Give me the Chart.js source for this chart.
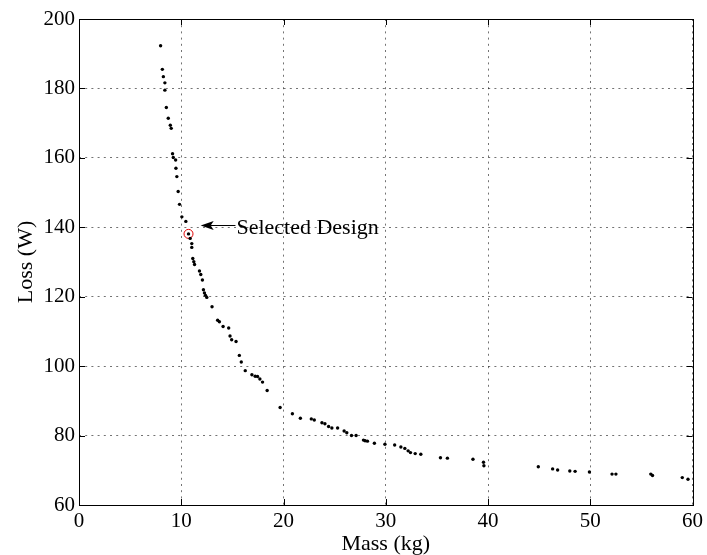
<!DOCTYPE html>
<html>
<head>
<meta charset="utf-8">
<script src="https://cdn.jsdelivr.net/npm/chart.js@4.4.0/dist/chart.umd.min.js"></script>
<style>
  html, body { margin: 0; padding: 0; background: #fff; }
  canvas { display: block; }
</style>
</head>
<body>
<canvas id="chart" width="707" height="555"></canvas>
<script>
'use strict';

// Pareto front of candidate designs: mass (kg) vs. loss (W)
var massKg = [
  7.98, 8.15, 8.25, 8.4, 8.4, 8.54, 8.73, 8.93, 9.02, 9.15,
  9.22, 9.45, 9.48, 9.57, 9.7, 9.83, 10.06, 10.45, 10.71, 10.87,
  11.03, 11.03, 11.13, 11.23, 11.3, 11.78, 11.91, 12.07, 12.17, 12.27,
  12.37, 12.5, 13.01, 13.56, 13.73, 14.09, 14.64, 14.77, 14.93, 15.36,
  15.68, 15.87, 16.26, 16.91, 17.23, 17.46, 17.69, 17.95, 18.4, 19.67,
  20.87, 21.65, 22.72, 23.01, 23.76, 24.05, 24.41, 24.73, 25.29, 25.93,
  26.19, 26.65, 27.1, 27.82, 27.98, 28.21, 28.89, 29.92, 30.87, 31.48,
  31.87, 32.19, 32.42, 32.88, 33.43, 35.35, 36.03, 38.53, 39.56, 39.6,
  44.92, 46.32, 46.81, 48.0, 48.52, 49.92, 52.13, 52.51, 55.92, 56.09,
  59.0, 59.56
];
var lossW = [
  192.3, 185.5, 183.4, 181.6, 179.5, 174.5, 171.4, 169.4, 168.5, 161.2,
  160.1, 159.4, 157.0, 154.6, 150.3, 146.6, 143.0, 141.7, 138.1, 136.8,
  135.3, 134.2, 131.0, 130.1, 129.3, 127.4, 126.4, 124.8, 122.0, 121.1,
  120.4, 119.8, 117.1, 113.2, 112.8, 111.4, 111.0, 108.7, 107.6, 107.1,
  103.1, 101.2, 98.7, 97.5, 97.1, 97.0, 96.3, 95.4, 93.0, 88.1,
  86.3, 85.0, 84.8, 84.5, 83.7, 83.4, 82.6, 82.2, 82.2, 81.3,
  80.8, 80.0, 80.0, 78.7, 78.5, 78.4, 77.8, 77.5, 77.3, 76.7,
  76.3, 75.6, 75.1, 74.8, 74.6, 73.6, 73.5, 73.2, 72.3, 71.3,
  71.0, 70.4, 70.1, 69.8, 69.7, 69.5, 68.9, 68.9, 68.9, 68.5,
  67.9, 67.4
];

// the chosen design, circled in red
var selectedMass = [10.71];
var selectedLoss = [138.1];

var xTicks = [0, 10, 20, 30, 40, 50, 60];
var yTicks = [60, 80, 100, 120, 140, 160, 180, 200];

// arrow label pointing at the chosen design (data coordinates)
var noteText = 'Selected Design';
var noteTip = [11.9, 140.6];
var noteTail = [15.3, 140.6];

var serif = '"Liberation Serif", "Times New Roman", serif';

function toPoints(xs, ys) {
  return xs.map(function(x, i) { return { x: x, y: ys[i] }; });
}

// MATLAB style box: frame on four sides, ticks pointing inward, plus the arrow note
var framePlugin = {
  id: 'frame',
  afterDatasetsDraw: function(chart) {
    var ctx = chart.ctx;
    var a = chart.chartArea;
    var xs = chart.scales.x;
    var ys = chart.scales.y;
    var tl = 6;

    ctx.save();
    ctx.strokeStyle = '#000';
    ctx.lineWidth = 1;
    ctx.beginPath();
    xTicks.forEach(function(v) {
      var px = Math.round(xs.getPixelForValue(v)) + 0.5;
      ctx.moveTo(px, a.bottom); ctx.lineTo(px, a.bottom - tl);
      ctx.moveTo(px, a.top); ctx.lineTo(px, a.top + tl);
    });
    yTicks.forEach(function(v) {
      var py = Math.round(ys.getPixelForValue(v)) + 0.5;
      ctx.moveTo(a.left, py); ctx.lineTo(a.left + tl, py);
      ctx.moveTo(a.right, py); ctx.lineTo(a.right - tl, py);
    });
    ctx.stroke();
    ctx.strokeRect(Math.round(a.left) + 0.5, Math.round(a.top) + 0.5,
      Math.round(a.right - a.left), Math.round(a.bottom - a.top));

    // arrow
    var tipX = xs.getPixelForValue(noteTip[0]);
    var tipY = Math.round(ys.getPixelForValue(noteTip[1])) + 0.5;
    var tailX = xs.getPixelForValue(noteTail[0]);
    ctx.beginPath();
    ctx.moveTo(tailX, tipY);
    ctx.lineTo(tipX + 8, tipY);
    ctx.stroke();
    ctx.fillStyle = '#000';
    ctx.beginPath();
    ctx.moveTo(tipX, tipY);
    ctx.lineTo(tipX + 13, tipY - 4.5);
    ctx.lineTo(tipX + 10, tipY);
    ctx.lineTo(tipX + 13, tipY + 4.5);
    ctx.closePath();
    ctx.fill();

    ctx.font = '22px ' + serif;
    ctx.textAlign = 'left';
    ctx.textBaseline = 'middle';
    ctx.fillText(noteText, tailX + 1, tipY + 3);
    ctx.restore();
  }
};

var gridStyle = {
  color: 'rgba(0,0,0,0.55)',
  lineWidth: 1,
  drawTicks: false
};

new Chart(document.getElementById('chart').getContext('2d'), {
  type: 'scatter',
  data: {
    datasets: [
      {
        label: 'Designs',
        data: toPoints(massKg, lossW),
        pointRadius: 1.7,
        pointBorderWidth: 0,
        backgroundColor: '#000',
        borderColor: '#000'
      },
      {
        label: 'Selected',
        data: toPoints(selectedMass, selectedLoss),
        pointRadius: 4.5,
        pointBorderWidth: 1,
        backgroundColor: 'rgba(0,0,0,0)',
        borderColor: '#e00000'
      }
    ]
  },
  options: {
    responsive: false,
    animation: false,
    events: [],
    layout: { padding: { left: 0, right: 12, top: 19, bottom: 0 } },
    plugins: {
      legend: { display: false },
      tooltip: { enabled: false }
    },
    scales: {
      x: {
        type: 'linear',
        min: 0,
        max: 60,
        afterBuildTicks: function(scale) {
          scale.ticks = xTicks.map(function(v) { return { value: v }; });
        },
        afterFit: function(scale) { scale.height = 50; },
        grid: gridStyle,
        border: { display: false, dash: [2, 4.2] },
        ticks: {
          color: '#000',
          padding: 4,
          maxRotation: 0,
          font: { family: serif, size: 21 }
        },
        title: {
          display: true,
          text: 'Mass (kg)',
          color: '#000',
          padding: 0,
          font: { family: serif, size: 22, lineHeight: 1 }
        }
      },
      y: {
        type: 'linear',
        min: 60,
        max: 200,
        afterBuildTicks: function(scale) {
          scale.ticks = yTicks.map(function(v) { return { value: v }; });
        },
        afterFit: function(scale) { scale.width = 79; },
        grid: gridStyle,
        border: { display: false, dash: [2, 4.2] },
        ticks: {
          color: '#000',
          padding: 4,
          font: { family: serif, size: 21 }
        },
        title: {
          display: true,
          text: 'Loss (W)',
          color: '#000',
          padding: { top: 15, bottom: 0 },
          font: { family: serif, size: 22, lineHeight: 1 }
        }
      }
    }
  },
  plugins: [framePlugin]
});
</script>
</body>
</html>
